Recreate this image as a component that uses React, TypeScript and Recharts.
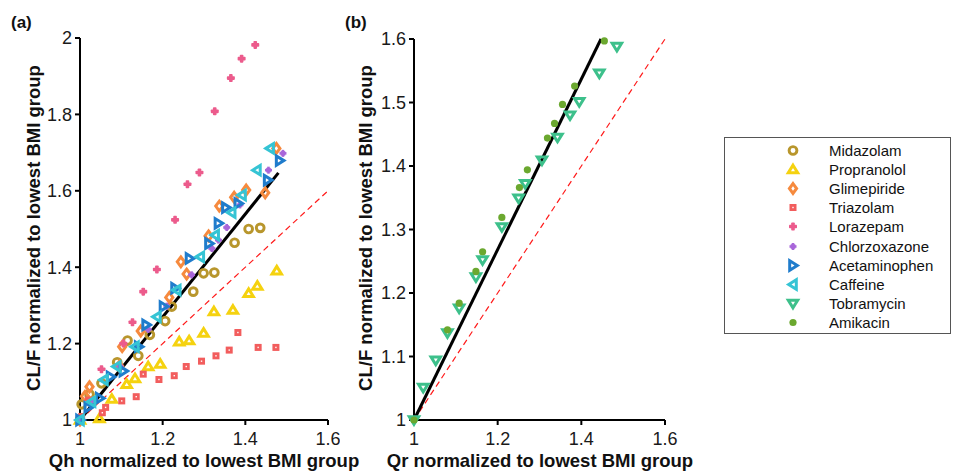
import React from 'react';
import { ReferenceLine, Scatter, ScatterChart, XAxis, YAxis } from 'recharts';

// panel (a): Qh ratio vs CL/F ratio, panel (b): Qr ratio vs CL/F ratio
const midazolam: [number, number][] = [
  [1, 1], [1.004, 1.041], [1.023, 1.067], [1.052, 1.096], [1.09, 1.151], [1.115, 1.208],
  [1.141, 1.168], [1.169, 1.223], [1.206, 1.259], [1.222, 1.297], [1.274, 1.336],
  [1.299, 1.384], [1.325, 1.386], [1.374, 1.464], [1.408, 1.5], [1.436, 1.503],
];
const propranolol: [number, number][] = [
  [1, 1], [1.047, 1.004], [1.077, 1.055], [1.113, 1.094], [1.133, 1.109], [1.165, 1.14],
  [1.194, 1.147], [1.24, 1.205], [1.264, 1.208], [1.299, 1.228], [1.324, 1.284],
  [1.37, 1.288], [1.408, 1.332], [1.429, 1.351], [1.476, 1.391],
];
const glimepiride: [number, number][] = [
  [1, 1], [1.012, 1.062], [1.023, 1.087], [1.095, 1.141], [1.102, 1.192], [1.147, 1.233],
  [1.216, 1.321], [1.244, 1.414], [1.258, 1.382], [1.311, 1.482], [1.337, 1.56],
  [1.373, 1.583], [1.402, 1.602], [1.448, 1.595], [1.475, 1.711],
];
const triazolam: [number, number][] = [
  [1, 1], [1.004, 1.009], [1.02, 1.052], [1.054, 1.019], [1.062, 1.033], [1.101, 1.05],
  [1.136, 1.061], [1.153, 1.12], [1.191, 1.106], [1.228, 1.116], [1.257, 1.14],
  [1.294, 1.154], [1.329, 1.168], [1.361, 1.183], [1.382, 1.229], [1.431, 1.19], [1.474, 1.19],
];
const lorazepam: [number, number][] = [
  [1, 1], [1.052, 1.133], [1.105, 1.2], [1.127, 1.256], [1.153, 1.336], [1.186, 1.394],
  [1.23, 1.524], [1.26, 1.617], [1.289, 1.648], [1.326, 1.808], [1.365, 1.895],
  [1.391, 1.946], [1.424, 1.982],
];
const chlorzoxazone: [number, number][] = [
  [1, 1], [1.032, 1.052], [1.097, 1.14], [1.165, 1.237], [1.21, 1.298], [1.27, 1.38],
  [1.319, 1.449], [1.335, 1.471], [1.355, 1.504], [1.387, 1.563], [1.456, 1.654], [1.491, 1.698],
];
const acetaminophen: [number, number][] = [
  [1, 1], [1.02, 1.033], [1.048, 1.057], [1.074, 1.113], [1.105, 1.128], [1.142, 1.192],
  [1.16, 1.249], [1.202, 1.297], [1.23, 1.345], [1.265, 1.423], [1.312, 1.462],
  [1.335, 1.515], [1.353, 1.556], [1.383, 1.567], [1.454, 1.628], [1.483, 1.679],
];
const caffeine: [number, number][] = [
  [1, 1], [1.028, 1.048], [1.058, 1.105], [1.089, 1.14], [1.133, 1.192], [1.186, 1.27],
  [1.234, 1.34], [1.291, 1.427], [1.327, 1.484], [1.367, 1.543], [1.392, 1.589],
  [1.428, 1.654], [1.46, 1.711],
];
const tobramycin: [number, number][] = [
  [1, 1], [1.022, 1.051], [1.052, 1.094], [1.08, 1.137], [1.108, 1.176], [1.148, 1.225],
  [1.164, 1.252], [1.21, 1.304], [1.25, 1.349], [1.266, 1.372], [1.306, 1.409],
  [1.343, 1.445], [1.373, 1.48], [1.395, 1.501], [1.443, 1.546], [1.485, 1.588],
];
const amikacin: [number, number][] = [
  [1, 1], [1.08, 1.142], [1.108, 1.184], [1.148, 1.234], [1.164, 1.265], [1.21, 1.319],
  [1.252, 1.366], [1.271, 1.394], [1.319, 1.444], [1.336, 1.467], [1.355, 1.497],
  [1.384, 1.526], [1.455, 1.597],
];

// regression lines (start, end) and identity line
const fitLineQh: [number, number][] = [[1, 1], [1.48, 1.647]];
const fitLineQr: [number, number][] = [[1, 1], [1.447, 1.6]];
const identityLine: [number, number][] = [[1, 1], [1.6, 1.6]];

const xTicks = [1, 1.2, 1.4, 1.6];
const yTicksQh = [1, 1.2, 1.4, 1.6, 1.8, 2];
const yTicksQr = [1, 1.1, 1.2, 1.3, 1.4, 1.5, 1.6];

const FONT = '"Liberation Sans", Arial, Helvetica, sans-serif';

type Kind = 'circle' | 'triUp' | 'diamond' | 'square' | 'plus' | 'star' | 'triRight' | 'triLeft' | 'triDown' | 'dot';

type SeriesDef = { name: string; data: [number, number][]; color: string; kind: Kind };

const qhSeries: SeriesDef[] = [
  { name: 'Midazolam', data: midazolam, color: '#b8962c', kind: 'circle' },
  { name: 'Propranolol', data: propranolol, color: '#f5d20f', kind: 'triUp' },
  { name: 'Glimepiride', data: glimepiride, color: '#f68a3e', kind: 'diamond' },
  { name: 'Triazolam', data: triazolam, color: '#f25d5d', kind: 'square' },
  { name: 'Lorazepam', data: lorazepam, color: '#ec5b8c', kind: 'plus' },
  { name: 'Chlorzoxazone', data: chlorzoxazone, color: '#a866d9', kind: 'star' },
  { name: 'Acetaminophen', data: acetaminophen, color: '#1f7ccc', kind: 'triRight' },
  { name: 'Caffeine', data: caffeine, color: '#35c4d4', kind: 'triLeft' },
];

const qrSeries: SeriesDef[] = [
  { name: 'Tobramycin', data: tobramycin, color: '#3dc08b', kind: 'triDown' },
  { name: 'Amikacin', data: amikacin, color: '#6ba82f', kind: 'dot' },
];

const legendOrder = [...qhSeries, ...qrSeries];

function drawMarker(kind: Kind, color: string, cx: number, cy: number) {
  const sw = 3;
  switch (kind) {
    case 'circle':
      return <circle cx={cx} cy={cy} r={3.9} fill="none" stroke={color} strokeWidth={2.9} />;
    case 'triUp':
      return (
        <polygon
          points={`${cx},${cy - 4.3} ${cx + 4.7},${cy + 3.3} ${cx - 4.7},${cy + 3.3}`}
          fill="none" stroke={color} strokeWidth={sw}
        />
      );
    case 'triDown':
      return (
        <polygon
          points={`${cx},${cy + 4.3} ${cx + 4.7},${cy - 3.3} ${cx - 4.7},${cy - 3.3}`}
          fill="none" stroke={color} strokeWidth={sw}
        />
      );
    case 'triRight':
      return (
        <polygon
          points={`${cx + 4.3},${cy} ${cx - 3.3},${cy - 4.7} ${cx - 3.3},${cy + 4.7}`}
          fill="none" stroke={color} strokeWidth={sw}
        />
      );
    case 'triLeft':
      return (
        <polygon
          points={`${cx - 4.3},${cy} ${cx + 3.3},${cy - 4.7} ${cx + 3.3},${cy + 4.7}`}
          fill="none" stroke={color} strokeWidth={sw}
        />
      );
    case 'diamond':
      return (
        <polygon
          points={`${cx},${cy - 4.9} ${cx + 3.6},${cy} ${cx},${cy + 4.9} ${cx - 3.6},${cy}`}
          fill="none" stroke={color} strokeWidth={sw}
        />
      );
    case 'square':
      return <rect x={cx - 2.1} y={cy - 2.1} width={4.2} height={4.2} fill="none" stroke={color} strokeWidth={2.8} />;
    case 'plus':
      return (
        <g fill={color}>
          <rect x={cx - 4} y={cy - 1.8} width={8} height={3.6} rx={0.8} />
          <rect x={cx - 1.8} y={cy - 4} width={3.6} height={8} rx={0.8} />
        </g>
      );
    case 'star':
      return (
        <g fill={color}>
          <rect x={cx - 3.5} y={cy - 1.3} width={7} height={2.6} />
          <rect x={cx - 1.3} y={cy - 3.5} width={2.6} height={7} />
          <rect x={cx - 2.3} y={cy - 2.3} width={4.6} height={4.6} />
        </g>
      );
    case 'dot':
    default:
      return <circle cx={cx} cy={cy} r={3.6} fill={color} />;
  }
}

const toPoints = (d: [number, number][]) => d.map(([x, y]) => ({ x, y }));

const axisLine = { stroke: '#000', strokeWidth: 2 };
const tickStyle = { fill: '#1a1a1a', fontSize: 18, fontFamily: FONT };

function Panel({
  left, top, width, yAxisWidth, rightMargin, plotTop, yDomain, yTicks, series, fit,
}: {
  left: number; top: number; width: number; yAxisWidth: number; rightMargin: number;
  plotTop: number; yDomain: [number, number]; yTicks: number[]; series: SeriesDef[];
  fit: [number, number][];
}) {
  return (
    <div style={{ position: 'absolute', left, top }}>
      <ScatterChart width={width} height={471} margin={{ top: plotTop, right: rightMargin, bottom: 0, left: 0 }}>
        <XAxis
          type="number" dataKey="x" domain={[1, 1.6]} ticks={xTicks} height={51}
          axisLine={axisLine} tickLine={axisLine} tickSize={5} tickMargin={7}
          tick={tickStyle} tickFormatter={(v: number) => String(v)} interval={0}
        />
        <YAxis
          type="number" dataKey="y" domain={yDomain} ticks={yTicks} width={yAxisWidth}
          axisLine={axisLine} tickLine={axisLine} tickSize={5} tickMargin={3}
          tick={tickStyle} tickFormatter={(v: number) => String(v)} interval={0}
        />
        <ReferenceLine segment={toPoints(identityLine)} stroke="#ff1a1a" strokeWidth={1.2} strokeDasharray="6 4" />
        {series.map((s) => (
          <Scatter
            key={s.name}
            name={s.name}
            data={toPoints(s.data)}
            isAnimationActive={false}
            shape={(p: any) => drawMarker(s.kind, s.color, p.cx, p.cy)}
          />
        ))}
        <ReferenceLine segment={toPoints(fit)} stroke="#000" strokeWidth={3} />
      </ScatterChart>
    </div>
  );
}

const labelBase: React.CSSProperties = {
  position: 'absolute',
  fontFamily: FONT,
  fontWeight: 'bold',
  fontSize: 18.5,
  lineHeight: 1,
  whiteSpace: 'nowrap',
  color: '#111',
};

export default function App() {
  return (
    <div style={{ position: 'absolute', left: 0, top: 0, width: 960, height: 471, background: '#fff', overflow: 'hidden' }}>
      <Panel left={0} top={0} width={340} yAxisWidth={80} rightMargin={12} plotTop={38}
        yDomain={[1, 2]} yTicks={yTicksQh} series={qhSeries} fit={fitLineQh} />
      <Panel left={340} top={0} width={340} yAxisWidth={74} rightMargin={15} plotTop={39}
        yDomain={[1, 1.6]} yTicks={yTicksQr} series={qrSeries} fit={fitLineQr} />

      <div style={{ ...labelBase, fontSize: 17, left: 11, top: 14 }}>(a)</div>
      <div style={{ ...labelBase, fontSize: 17, left: 345, top: 14 }}>(b)</div>

      <div style={{ ...labelBase, left: 34, top: 228, transform: 'translate(-50%, -50%) rotate(-90deg)' }}>
        CL/F normalized to lowest BMI group
      </div>
      <div style={{ ...labelBase, left: 366, top: 228, transform: 'translate(-50%, -50%) rotate(-90deg)' }}>
        CL/F normalized to lowest BMI group
      </div>
      <div style={{ ...labelBase, left: 204, top: 461, transform: 'translate(-50%, -50%)' }}>
        Qh normalized to lowest BMI group
      </div>
      <div style={{ ...labelBase, left: 540, top: 461, transform: 'translate(-50%, -50%)' }}>
        Qr normalized to lowest BMI group
      </div>

      {/* legend */}
      <div style={{ position: 'absolute', left: 724, top: 137, width: 225, height: 195, border: '1px solid #555', background: '#fff' }}>
        {legendOrder.map((s, i) => (
          <div key={s.name} style={{ position: 'absolute', left: 0, top: 2.8 + i * 19.16, height: 19, width: 225 }}>
            <svg width={20} height={19} style={{ position: 'absolute', left: 58, top: 0 }}>
              {drawMarker(s.kind, s.color, 10, 9.5)}
            </svg>
            <div style={{ position: 'absolute', left: 104, top: 0, height: 19, lineHeight: '19px', fontFamily: FONT, fontSize: 15, color: '#111', whiteSpace: 'nowrap' }}>
              {s.name}
            </div>
          </div>
        ))}
      </div>
    </div>
  );
}
